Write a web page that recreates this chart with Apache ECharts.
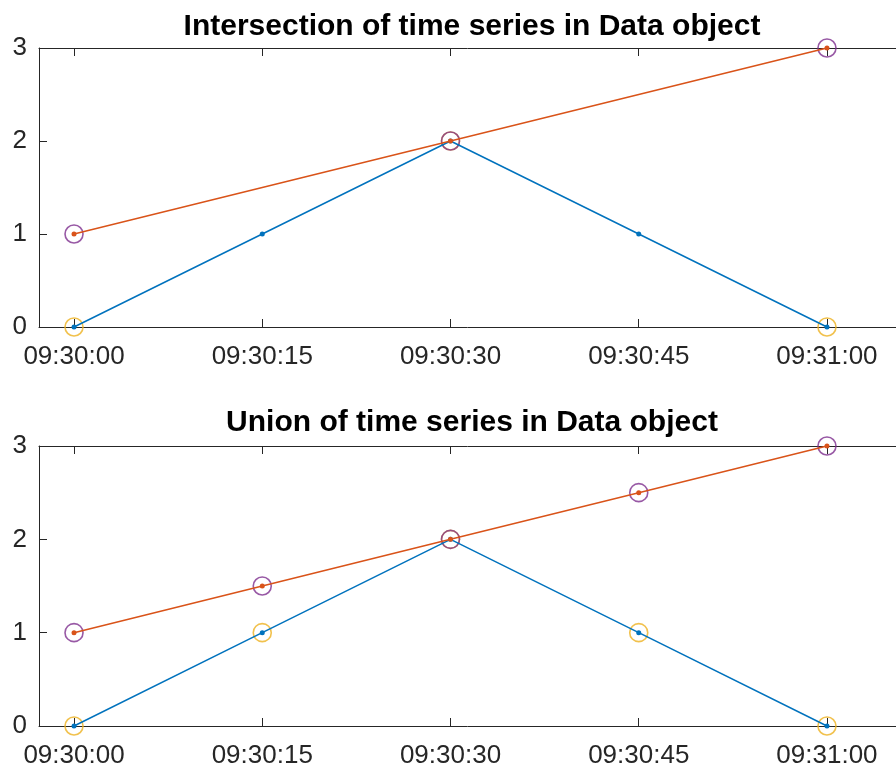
<!DOCTYPE html>
<html>
<head>
<meta charset="utf-8">
<script src="https://cdn.jsdelivr.net/npm/echarts@6/dist/echarts.min.js"></script>
<style>html,body{margin:0;padding:0;background:#fff}#c{width:896px;height:767px}</style>
</head>
<body>
<div id="c"></div>
<script>
// ---- data ----
const tickLabels = ["09:30:00", "09:30:15", "09:30:30", "09:30:45", "09:31:00"];
const yTicks = [0, 1, 2, 3];

const seriesATimes = ["09:30:00", "09:30:15", "09:30:30", "09:30:45", "09:31:00"];
const seriesAValues = [0, 1, 2, 1, 0];
const seriesBTimes = ["09:30:00", "09:30:30", "09:31:00"];
const seriesBValues = [1, 2, 3];

const intersectTimes = ["09:30:00", "09:30:30", "09:31:00"];
const intersectA = [0, 2, 0];
const intersectB = [1, 2, 3];

const unionTimes = ["09:30:00", "09:30:15", "09:30:30", "09:30:45", "09:31:00"];
const unionA = [0, 1, 2, 1, 0];
const unionB = [1, 1.5, 2, 2.5, 3];

const titles = ["Intersection of time series in Data object", "Union of time series in Data object"];

// ---- helpers ----
function toSec(s) { const p = s.split(":").map(Number); return p[0] * 3600 + p[1] * 60 + p[2]; }
function pad(n) { return String(n).padStart(2, "0"); }
function fmt(v) {
  const t = Math.round(v);
  return pad(Math.floor(t / 3600)) + ":" + pad(Math.floor((t % 3600) / 60)) + ":" + pad(t % 60);
}
function pairs(times, vals) { return times.map((t, i) => [toSec(t), vals[i]]); }

const tickSecs = tickLabels.map(toSec);
const xMin = tickSecs[0] - 2.79;
const xMax = tickSecs[0] + 65.5;

const BLUE = "#0072BD", ORANGE = "#D95319", YELLOW = "#EDB120", PURPLE = "#7E2F8E";
const AX = "#262626";
const FONT = "Liberation Sans, Arial, sans-serif";

const grids = [
  { left: 39, right: 0, top: 48, height: 279, outerBoundsMode: "none", containLabel: false },
  { left: 39, right: 0, top: 446, height: 280, outerBoundsMode: "none", containLabel: false }
];

const xAxes = [], yAxes = [], series = [];
grids.forEach((g, gi) => {
  xAxes.push({
    type: "value", gridIndex: gi, position: "bottom", min: xMin, max: xMax,
    axisLine: { onZero: false, lineStyle: { color: AX, width: 1 } },
    axisTick: { inside: true, length: 8, customValues: tickSecs, lineStyle: { color: AX } },
    axisLabel: { customValues: tickSecs, formatter: fmt, color: AX, fontSize: 26, fontFamily: FONT, margin: 17 },
    splitLine: { show: false }
  });
  xAxes.push({
    type: "value", gridIndex: gi, position: "top", min: xMin, max: xMax,
    axisLine: { onZero: false, lineStyle: { color: AX, width: 1 } },
    axisTick: { inside: true, length: 8, customValues: tickSecs, lineStyle: { color: AX } },
    axisLabel: { show: false },
    splitLine: { show: false }
  });
  yAxes.push({
    type: "value", gridIndex: gi, min: yTicks[0], max: yTicks[yTicks.length - 1], interval: 1,
    axisLine: { show: true, lineStyle: { color: AX, width: 1 } },
    axisTick: { show: true, inside: true, length: 8, lineStyle: { color: AX } },
    axisLabel: { color: AX, fontSize: 26, fontFamily: FONT, margin: 12, padding: [8, 0, 0, 0] },
    splitLine: { show: false }
  });
});

function lineSeries(gi, data, color) {
  return {
    type: "line", xAxisIndex: gi * 2, yAxisIndex: gi, data: data, clip: false,
    symbol: "circle", symbolSize: 5, showSymbol: true,
    lineStyle: { color: color, width: 1.5 }, itemStyle: { color: color }, silent: true, animation: false
  };
}
function circleSeries(gi, data, color) {
  return {
    type: "scatter", xAxisIndex: gi * 2, yAxisIndex: gi, data: data, clip: false,
    symbol: "circle", symbolSize: 18,
    itemStyle: { color: "rgba(0,0,0,0)", borderColor: color, borderWidth: 1.6 }, silent: true, animation: false
  };
}

series.push(lineSeries(0, pairs(seriesATimes, seriesAValues), BLUE));
series.push(lineSeries(0, pairs(seriesBTimes, seriesBValues), ORANGE));
series.push(circleSeries(0, pairs(intersectTimes, intersectA), YELLOW));
series.push(circleSeries(0, pairs(intersectTimes, intersectB), PURPLE));

series.push(lineSeries(1, pairs(unionTimes, unionA), BLUE));
series.push(lineSeries(1, pairs(unionTimes, unionB), ORANGE));
series.push(circleSeries(1, pairs(unionTimes, unionA), YELLOW));
series.push(circleSeries(1, pairs(unionTimes, unionB), PURPLE));

const chart = echarts.init(document.getElementById("c"), null, { renderer: "canvas" });
chart.setOption({
  animation: false,
  backgroundColor: "#fff",
  title: [
    { text: titles[0], left: 467, top: 7, textAlign: "center",
      textStyle: { fontSize: 30, fontWeight: "bold", color: "#000", fontFamily: FONT } },
    { text: titles[1], left: 467, top: 403, textAlign: "center",
      textStyle: { fontSize: 30, fontWeight: "bold", color: "#000", fontFamily: FONT } }
  ],
  grid: grids,
  xAxis: xAxes,
  yAxis: yAxes,
  series: series
});
</script>
</body>
</html>
